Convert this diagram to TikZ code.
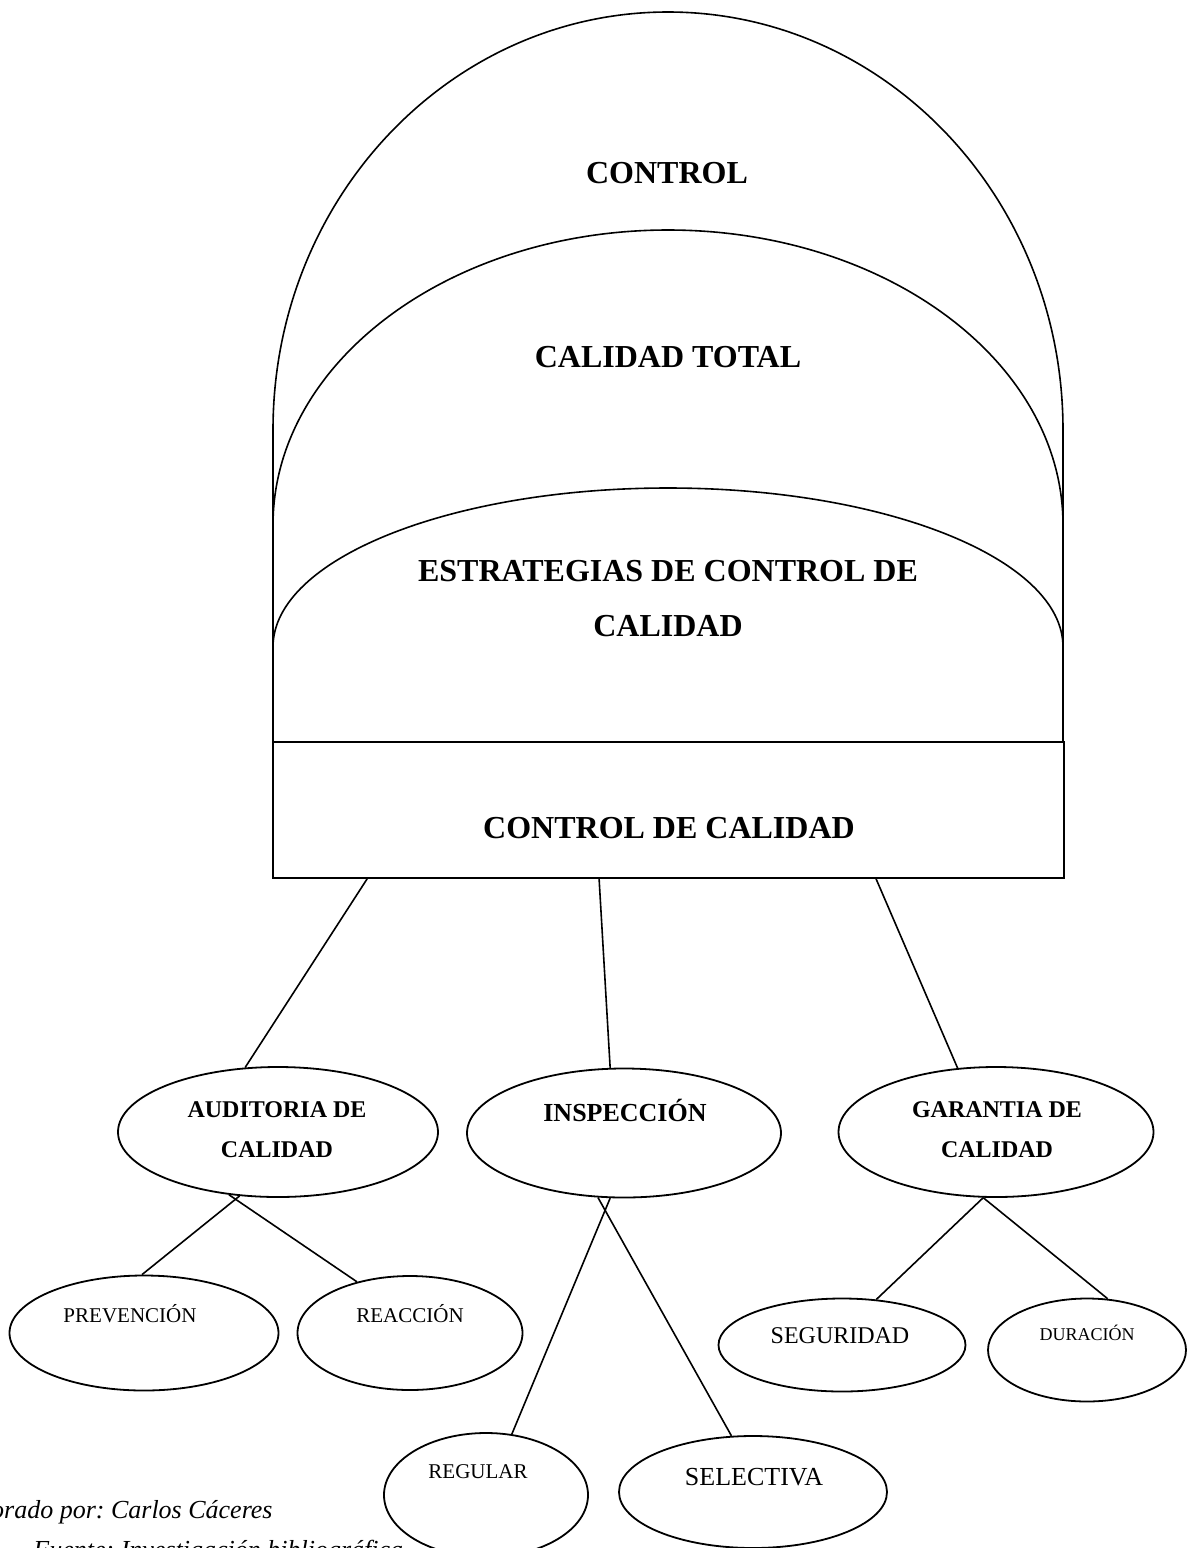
\documentclass[tikz,border=0pt]{standalone}
\usepackage{fontspec}
\setmainfont{Liberation Serif}
\usetikzlibrary{shapes.geometric}

\tikzset{
  linea/.style={line width=0.8pt},
  elipse/.style={draw, ellipse, line width=0.9pt, inner sep=0pt},
  caja/.style={draw, rectangle, line width=0.9pt, inner sep=0pt},
  titulo/.style={font=\fontsize{16}{27.5}\selectfont\bfseries, align=center, inner sep=0pt},
  negrita/.style={font=\fontsize{12}{20}\selectfont\bfseries, align=center, inner sep=0pt},
  etiqueta/.style={font=\fontsize{10.5}{13}\selectfont, inner sep=0pt, anchor=base},
  pie/.style={font=\fontsize{13}{18.5}\selectfont\itshape, inner sep=0pt}
}

\begin{document}
\frenchspacing
\begin{tikzpicture}[x=0.5pt, y=-0.5pt]
\useasboundingbox (0,0) rectangle (1189,1548);
\clip (0,0) rectangle (1189,1548);

% cupula
\draw[linea] (273,742) -- (273,430) arc[start angle=180, end angle=360, x radius=395, y radius=418] -- (1063,742);
\draw[linea] (273,525) arc[start angle=180, end angle=360, x radius=395, y radius=295];
\draw[linea] (273,647) arc[start angle=180, end angle=360, x radius=395, y radius=159];

\node[titulo, anchor=base] (tControl) at (667,183) {CONTROL};
\node[titulo, anchor=base] (tTotal) at (668,367) {CALIDAD TOTAL};
\node[titulo] (tEstr) at (668,599) {ESTRATEGIAS DE CONTROL DE\\CALIDAD};

% base
\node[caja, minimum width=395.5pt, minimum height=68pt] (ctrl) at (668.5,810) {};
\node[titulo, anchor=base] (tCtrl) at (669,838) {CONTROL DE CALIDAD};

% elipses
\node[elipse, minimum width=160pt, minimum height=65pt] (aud) at (278,1132) {};
\node[elipse, minimum width=157pt, minimum height=64.5pt] (insp) at (624,1133) {};
\node[elipse, minimum width=157.5pt, minimum height=65pt] (gar) at (996,1132) {};

\node[elipse, minimum width=134.5pt, minimum height=57.5pt] (prev) at (144,1333) {};
\node[elipse, minimum width=112.5pt, minimum height=57pt] (reac) at (410,1333) {};
\node[elipse, minimum width=102pt, minimum height=62pt] (reg) at (486,1495) {};
\node[elipse, minimum width=134pt, minimum height=56pt] (sel) at (753,1492) {};
\node[elipse, minimum width=123.5pt, minimum height=46.5pt] (seg) at (842,1345) {};
\node[elipse, minimum width=99pt, minimum height=51.5pt] (dur) at (1087,1350) {};

\node[negrita] (tAud) at (277,1130) {AUDITORIA DE\\CALIDAD};
\node[negrita, font=\fontsize{13}{20}\selectfont\bfseries, anchor=base] (tInsp) at (625,1121) {INSPECCIÓN};
\node[negrita] (tGar) at (997,1130) {GARANTIA DE\\CALIDAD};

\node[etiqueta] (tPrev) at (130,1322) {PREVENCIÓN};
\node[etiqueta] (tReac) at (410,1322) {REACCIÓN};
\node[etiqueta] (tReg) at (478,1478) {REGULAR};
\node[etiqueta, font=\fontsize{13}{16}\selectfont] (tSel) at (754,1485) {SELECTIVA};
\node[etiqueta, font=\fontsize{12}{14}\selectfont] (tSeg) at (840,1343) {SEGURIDAD};
\node[etiqueta, font=\fontsize{9}{11}\selectfont] (tDur) at (1087,1340) {DURACIÓN};

% conectores
\draw[linea] ([xshift=47.5pt]ctrl.south west) -- (aud.117);
\draw[linea] ([xshift=163.5pt]ctrl.south west) -- (insp.102);
\draw[linea] ([xshift=302pt]ctrl.south west) -- (gar.121);

\draw[linea] (aud.239) -- (prev.92);
\draw[linea] (aud.232) -- (reac.136);
\draw[linea] (insp.258) -- (reg.67);
\draw[linea] (insp.248) -- (sel.111);
\draw[linea] (gar.259) -- (seg.53);
\draw[linea] (gar.259) -- (dur.68);

% pie
\node[pie, anchor=base east] (elab) at (273,1518) {Elaborado por: Carlos Cáceres};
\node[pie, anchor=base west] (fuente) at (33,1558) {Fuente: Investigación bibliográfica};

\end{tikzpicture}
\end{document}
